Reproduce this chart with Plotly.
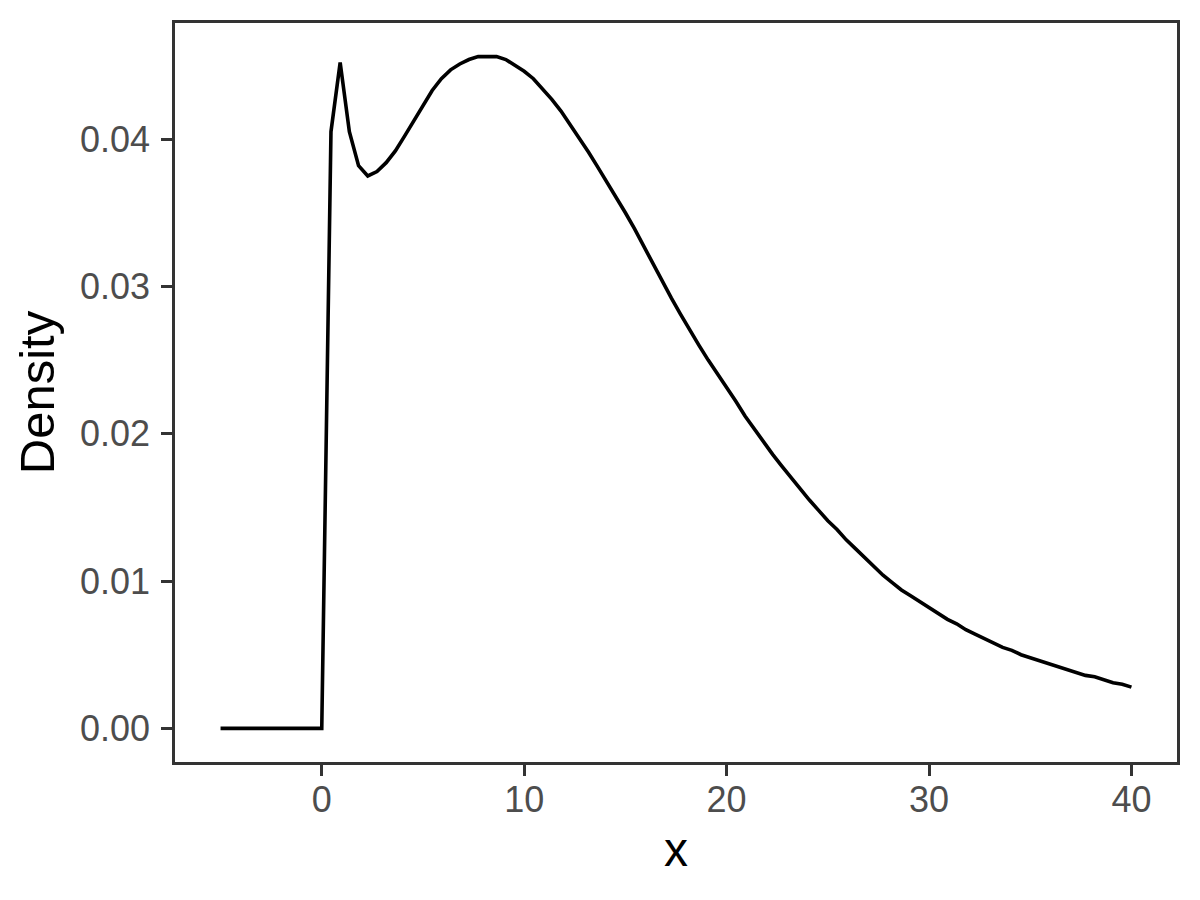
import plotly.graph_objects as go

# evaluation grid (x) and density values
x_vals = [
    -5.0, -4.545, -4.091, -3.636, -3.182, -2.727, -2.273, -1.818, -1.364, -0.909,
    -0.455, 0.0, 0.455, 0.909, 1.364, 1.818, 2.273, 2.727, 3.182, 3.636,
    4.091, 4.545, 5.0, 5.455, 5.909, 6.364, 6.818, 7.273, 7.727, 8.182,
    8.636, 9.091, 9.545, 10.0, 10.455, 10.909, 11.364, 11.818, 12.273, 12.727,
    13.182, 13.636, 14.091, 14.545, 15.0, 15.455, 15.909, 16.364, 16.818, 17.273,
    17.727, 18.182, 18.636, 19.091, 19.545, 20.0, 20.455, 20.909, 21.364, 21.818,
    22.273, 22.727, 23.182, 23.636, 24.091, 24.545, 25.0, 25.455, 25.909, 26.364,
    26.818, 27.273, 27.727, 28.182, 28.636, 29.091, 29.545, 30.0, 30.455, 30.909,
    31.364, 31.818, 32.273, 32.727, 33.182, 33.636, 34.091, 34.545, 35.0, 35.455,
    35.909, 36.364, 36.818, 37.273, 37.727, 38.182, 38.636, 39.091, 39.545, 40.0,
]
density = [
    0.0, 0.0, 0.0, 0.0, 0.0, 0.0, 0.0, 0.0, 0.0, 0.0,
    0.0, 0.0, 0.0405, 0.0452, 0.0405, 0.0382, 0.0375, 0.0378, 0.0384, 0.0392,
    0.0402, 0.0412, 0.0423, 0.0433, 0.0441, 0.0447, 0.0451, 0.0454, 0.0456, 0.0456,
    0.0456, 0.0454, 0.0450, 0.0446, 0.0441, 0.0434, 0.0427, 0.0419, 0.0410, 0.0400,
    0.0391, 0.0381, 0.0371, 0.0360, 0.0350, 0.0339, 0.0327, 0.0316, 0.0304, 0.0292,
    0.0281, 0.0270, 0.0260, 0.0250, 0.0241, 0.0232, 0.0222, 0.0212, 0.0203, 0.0194,
    0.0186, 0.0178, 0.0170, 0.0163, 0.0155, 0.0148, 0.0141, 0.0135, 0.0128, 0.0122,
    0.0116, 0.0110, 0.0104, 0.0099, 0.0094, 0.0090, 0.0086, 0.0082, 0.0078, 0.0074,
    0.0071, 0.0067, 0.0064, 0.0061, 0.0058, 0.0055, 0.0053, 0.0050, 0.0048, 0.0046,
    0.0044, 0.0042, 0.0040, 0.0038, 0.0036, 0.0035, 0.0033, 0.0031, 0.0030, 0.0028,
]

x_ticks = [0, 10, 20, 30, 40]
y_ticks = [0.00, 0.01, 0.02, 0.03, 0.04]
y_ticklabels = ["0.00", "0.01", "0.02", "0.03", "0.04"]

FONT = "Arial, Liberation Sans, sans-serif"

fig = go.Figure()

fig.add_trace(
    go.Scatter(
        x=x_vals,
        y=density,
        mode="lines",
        line=dict(color="black", width=3.6),
        showlegend=False,
    )
)

axis_common = dict(
    showgrid=False,
    zeroline=False,
    showline=True,
    mirror=True,
    linecolor="#333333",
    linewidth=2.6,
    ticks="outside",
    ticklen=11,
    tickwidth=3.2,
    tickcolor="#333333",
    tickfont=dict(family=FONT, size=36, color="#4D4D4D"),
)

# page body adds an 8px offset, so margins are shifted to keep the panel in place
fig.update_layout(
    width=1200,
    height=900,
    paper_bgcolor="white",
    plot_bgcolor="white",
    margin=dict(l=167, r=31, t=12, b=146),
    xaxis=dict(
        range=[-7.25, 42.25],
        tickvals=x_ticks,
        ticklabelstandoff=-7,
        title=dict(text="x", font=dict(family=FONT, size=48, color="black"), standoff=14),
        **axis_common,
    ),
    yaxis=dict(
        range=[-0.00228, 0.04788],
        tickvals=y_ticks,
        ticktext=y_ticklabels,
        ticklabelstandoff=4,
        title=dict(text="Density", font=dict(family=FONT, size=49, color="black"), standoff=10),
        **axis_common,
    ),
)

fig.write_html("out.html")
